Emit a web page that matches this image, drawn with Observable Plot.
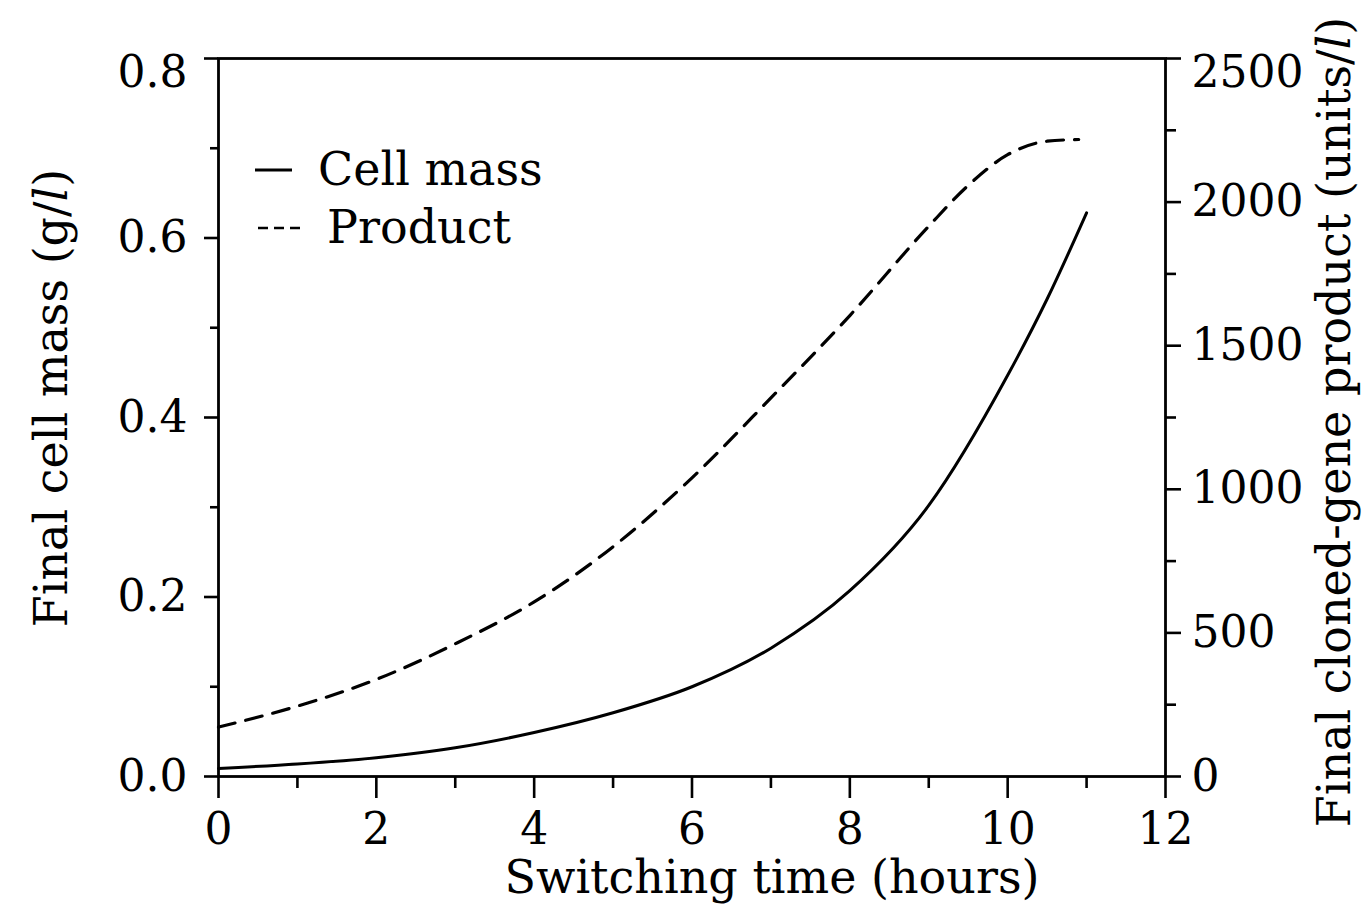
<!DOCTYPE html>
<html>
<head>
<meta charset="utf-8">
<script src="https://cdn.jsdelivr.net/npm/d3@7"></script>
<script src="https://cdn.jsdelivr.net/npm/@observablehq/plot@0.6"></script>
<style>
  html, body { margin: 0; padding: 0; background: white; overflow: hidden; }
  #chart svg { display: block; }
</style>
</head>
<body>
<div id="chart"></div>
<script>
// ---- data ----
const cellHours = [0, 1, 2, 3, 4, 5, 6, 7, 8, 9, 10, 10.5, 11];
const cellMass  = [0.009, 0.014, 0.021, 0.032, 0.049, 0.071, 0.100, 0.143, 0.207, 0.302, 0.447, 0.532, 0.628]; // g/l

const productHours = [0, 1, 2, 3, 4, 5, 6, 7, 8, 9, 9.5, 10, 10.5, 10.9];
const productValues = [172, 245, 338, 462, 608, 800, 1040, 1318, 1605, 1916, 2058, 2165, 2212, 2218]; // units/l

const xTicks = [0, 2, 4, 6, 8, 10, 12];
const xMinorTicks = [1, 3, 5, 7, 9, 11];
const leftTicks = [0, 0.2, 0.4, 0.6];
const leftTopTick = [0.8];
const leftMinorTicks = [0.1, 0.3, 0.5, 0.7];
const rightTicks = [0, 500, 1000, 1500, 2000];
const rightTopTick = [2500];
const rightMinorTicks = [250, 750, 1250, 1750, 2250];

const xLabel = "Switching time (hours)";
const legendLabels = ["Cell mass", "Product"];

// ---- scale link between the two y axes ----
const leftMax = 0.8, rightMax = 2500;
const k = leftMax / rightMax;

const cellData = cellHours.map((t, i) => ({t, v: cellMass[i]}));
const productData = productHours.map((t, i) => ({t, v: productValues[i]}));

const fmt1 = d3.format(".1f");
const blank = () => "";
const str = d => `${d}`;
const SW = 2.6;

const chart = Plot.plot({
  width: 1363,
  height: 907,
  marginLeft: 218,
  marginRight: 198,
  marginTop: 58,
  marginBottom: 131,
  x: {domain: [0, 12]},
  y: {domain: [0, leftMax]},
  style: {fontFamily: "'DejaVu Serif', serif", fontSize: "44px", color: "black", background: "white"},
  marks: [
    Plot.frame({stroke: "black", strokeWidth: 2.8}),
    // bottom axis
    Plot.axisX(xTicks, {tickSize: 22, tickPadding: 14, strokeWidth: SW, label: null, tickFormat: str}),
    Plot.axisX(xMinorTicks, {tickSize: 12, strokeWidth: SW, label: null, tickFormat: blank}),
    // left axis
    Plot.axisY(leftTicks, {anchor: "left", tickSize: 14, tickPadding: 17, strokeWidth: SW, label: null, tickFormat: fmt1}),
    Plot.axisY(leftTopTick, {anchor: "left", tickSize: 14, strokeWidth: SW, label: null, tickFormat: blank}),
    Plot.axisY(leftTopTick, {anchor: "left", tickSize: 0, tickPadding: 31, dy: 14, label: null, tickFormat: fmt1}),
    Plot.axisY(leftMinorTicks, {anchor: "left", tickSize: 8, strokeWidth: SW, label: null, tickFormat: blank}),
    // right axis (product, mapped onto the left scale)
    Plot.axisY(rightTicks, {anchor: "right", y: d => d * k, tickSize: 15, tickPadding: 11, strokeWidth: SW, label: null, tickFormat: str}),
    Plot.axisY(rightTopTick, {anchor: "right", y: d => d * k, tickSize: 15, strokeWidth: SW, label: null, tickFormat: blank}),
    Plot.axisY(rightTopTick, {anchor: "right", y: d => d * k, tickSize: 0, tickPadding: 26, dy: 14, label: null, tickFormat: str}),
    Plot.axisY(rightMinorTicks, {anchor: "right", y: d => d * k, tickSize: 10, strokeWidth: SW, label: null, tickFormat: blank}),
    // curves
    Plot.line(cellData, {x: "t", y: "v", stroke: "black", strokeWidth: 3, curve: "monotone-x"}),
    Plot.line(productData, {x: "t", y: d => d.v * k, stroke: "black", strokeWidth: 3.2, strokeDasharray: "17,11", curve: "monotone-x"})
  ]
});

document.getElementById("chart").appendChild(chart);

// ---- titles and legend (text added to the same SVG) ----
const svg = d3.select(chart);
const font = "'DejaVu Serif', serif";

// make sure the tick and frame strokes are heavy like the scan
svg.selectAll("g[aria-label$='tick']").attr("stroke-width", SW);
svg.selectAll("[aria-label='frame']").attr("stroke-width", 2.8);

svg.append("text")
  .attr("x", 772).attr("y", 893)
  .attr("text-anchor", "middle")
  .attr("font-family", font).attr("font-size", 46).attr("fill", "black")
  .text(xLabel);

function unitTitle(x, y, before, after) {
  const t = svg.append("text")
    .attr("transform", `translate(${x},${y}) rotate(-90)`)
    .attr("text-anchor", "middle")
    .attr("font-family", font).attr("font-size", 46).attr("fill", "black");
  t.append("tspan").text(before);
  t.append("tspan").attr("font-style", "italic").text("l");
  t.append("tspan").text(after);
}
unitTitle(67, 398, "Final cell mass (g/", ")");
unitTitle(1350, 422, "Final cloned-gene product (units/", ")");

// legend
svg.append("line").attr("x1", 255).attr("x2", 292).attr("y1", 170).attr("y2", 170)
  .attr("stroke", "black").attr("stroke-width", 3);
svg.append("text").attr("x", 318).attr("y", 185)
  .attr("text-anchor", "start")
  .attr("font-family", font).attr("font-size", 46).attr("fill", "black")
  .text(legendLabels[0]);
svg.append("line").attr("x1", 258).attr("x2", 300).attr("y1", 228).attr("y2", 228)
  .attr("stroke", "black").attr("stroke-width", 2.4).attr("stroke-dasharray", "10,6");
svg.append("text").attr("x", 327).attr("y", 243)
  .attr("text-anchor", "start")
  .attr("font-family", font).attr("font-size", 46).attr("fill", "black")
  .text(legendLabels[1]);
</script>
</body>
</html>
